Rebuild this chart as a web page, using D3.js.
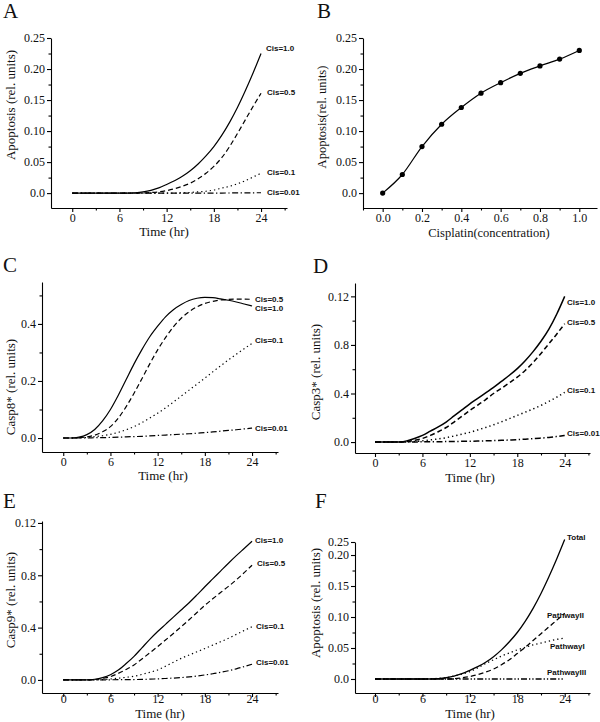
<!DOCTYPE html>
<html><head><meta charset="utf-8">
<script src="https://cdn.jsdelivr.net/npm/d3@7"></script>
<style>
body{margin:0;background:#fff}
svg{display:block}
text{font-family:"Liberation Serif","Times New Roman",serif;fill:#111}
.lbl{font-family:"Liberation Sans",Arial,sans-serif;font-weight:bold;font-size:8px}
</style>
</head><body>
<svg id="c" width="600" height="722"></svg>
<script>
// ---------- DATA ----------
const hours = [0,1,2,3,4,5,6,7,8,9,10,11,12,13,14,15,16,17,18,19,20,21,22,23,24];
const timeTicks = [0,6,12,18,24];
const timeMinor = [3,9,15,21,27];

// Panel A: Apoptosis vs time
const aCis10 = [0,0,0,0,0,0,0,0,0.0006,0.002,0.0045,0.0085,0.014,0.020,0.027,0.036,0.047,0.060,0.075,0.093,0.114,0.138,0.165,0.194,0.225];
const aCis05 = [0,0,0,0,0,0,0,0,0,0.0003,0.001,0.002,0.004,0.007,0.011,0.016,0.023,0.032,0.043,0.057,0.075,0.096,0.118,0.14,0.161];
const aCis01 = [0,0,0,0,0,0,0,0,0,0,0,0,0,0,0.0005,0.001,0.002,0.003,0.005,0.008,0.011,0.015,0.02,0.026,0.032];
const aCis001 = [0,0,0,0,0,0,0,0,0,0,0,0,0,0,0,0,0,0,0,0.0001,0.0002,0.0003,0.0004,0.0005,0.0006];
const aYTicks = [0,0.05,0.10,0.15,0.20,0.25];
const aYLabels = ["0.0","0.05","0.10","0.15","0.20","0.25"];

// Panel B: Apoptosis vs cisplatin concentration
const bConc = [0,0.1,0.2,0.3,0.4,0.5,0.6,0.7,0.8,0.9,1.0];
const bApop = [0,0.030,0.075,0.111,0.138,0.161,0.178,0.193,0.205,0.216,0.230];
const bXTicks = [0,0.2,0.4,0.6,0.8,1.0];
const bXLabels = ["0.0","0.2","0.4","0.6","0.8","1.0"];
const bXMinor = [-0.1,0.1,0.3,0.5,0.7,0.9];

// Panel C: Casp8*
const cCis10 = [0,0,0.003,0.012,0.03,0.06,0.10,0.15,0.205,0.26,0.31,0.355,0.392,0.425,0.45,0.468,0.482,0.49,0.493,0.492,0.488,0.483,0.477,0.47,0.463];
const cCis05 = [0,0,0.001,0.004,0.01,0.022,0.04,0.07,0.11,0.157,0.208,0.26,0.309,0.352,0.39,0.42,0.443,0.46,0.472,0.479,0.484,0.486,0.487,0.487,0.486];
const cCis01 = [0,0,0.001,0.002,0.005,0.008,0.013,0.02,0.029,0.04,0.054,0.07,0.087,0.106,0.126,0.147,0.168,0.189,0.21,0.232,0.253,0.274,0.294,0.313,0.332];
const cCis001 = [0,0,0,0,0.001,0.0015,0.002,0.003,0.004,0.005,0.006,0.0075,0.009,0.0105,0.012,0.0135,0.015,0.017,0.019,0.0215,0.024,0.0265,0.029,0.032,0.035];
const cYTicks = [0,0.2,0.4];
const cYLabels = ["0.0","0.2","0.4"];

// Panel D: Casp3*
const dCis10 = [0,0,0,0,0.01,0.03,0.055,0.09,0.125,0.165,0.215,0.265,0.315,0.36,0.405,0.45,0.5,0.55,0.605,0.67,0.745,0.83,0.93,1.055,1.2];
const dCis05 = [0,0,0,0,0.005,0.015,0.03,0.055,0.085,0.12,0.165,0.212,0.26,0.305,0.35,0.40,0.443,0.488,0.535,0.59,0.655,0.73,0.81,0.89,0.975];
const dCis01 = [0,0,0,0,0.002,0.005,0.01,0.018,0.026,0.036,0.05,0.065,0.08,0.1,0.12,0.142,0.167,0.193,0.22,0.246,0.273,0.302,0.335,0.37,0.41];
const dCis001 = [0,0,0,0,0,0.001,0.002,0.003,0.003,0.004,0.005,0.006,0.007,0.008,0.01,0.012,0.014,0.017,0.02,0.024,0.028,0.033,0.038,0.046,0.055];
const dYTicks = [0,0.4,0.8,1.2];
const dYLabels = ["0.0","0.4","0.8","0.12"];

// Panel E: Casp9*
const eCis10 = [0,0,0,0,0.005,0.018,0.04,0.075,0.125,0.18,0.245,0.31,0.37,0.425,0.48,0.535,0.59,0.65,0.712,0.772,0.832,0.892,0.95,1.005,1.06];
const eCis05 = [0,0,0,0,0.003,0.012,0.025,0.05,0.08,0.115,0.16,0.207,0.255,0.305,0.355,0.407,0.46,0.515,0.57,0.62,0.668,0.715,0.765,0.82,0.877];
const eCis01 = [0,0,0,0,0,0.003,0.007,0.013,0.02,0.028,0.042,0.058,0.076,0.105,0.135,0.165,0.19,0.215,0.24,0.266,0.292,0.318,0.348,0.378,0.407];
const eCis001 = [0,0,0,0,0,0,0.001,0.0015,0.002,0.003,0.004,0.006,0.008,0.011,0.014,0.018,0.023,0.03,0.038,0.047,0.058,0.07,0.085,0.102,0.12];
const eYTicks = [0,0.4,0.8,1.2];
const eYLabels = ["0.0","0.4","0.8","0.12"];

// Panel F: Apoptosis by pathway
const fTotal = [0,0,0,0,0,0,0,0,0.0006,0.002,0.0045,0.0085,0.014,0.020,0.027,0.036,0.047,0.060,0.075,0.093,0.114,0.138,0.165,0.194,0.225];
const fPathII = [0,0,0,0,0,0,0,0,0,0,0.0005,0.002,0.004,0.007,0.011,0.016,0.023,0.031,0.041,0.051,0.062,0.073,0.084,0.095,0.106];
const fPathI = [0,0,0,0,0,0,0,0.0003,0.001,0.002,0.005,0.008,0.012,0.018,0.025,0.031,0.037,0.042,0.047,0.051,0.055,0.058,0.061,0.064,0.066];
const fPathIII = [0,0,0,0,0,0,0,0,0,0,0,0,0,0,0,0,0,0,0,0,0,0,0,0,0];
const fYTicks = [0,0.05,0.10,0.15,0.20,0.221];
const fYLabels = ["0.0","0.05","0.10","0.15","0.20","0.25"];

// ---------- STYLES ----------
const dash = {solid:null, dashed:"5,3", dotted:"1.3,3", dashdot:"6,2.5,1.3,2.5", dashdotdot:"6,2,1.3,2,1.3,2"};
const svg = d3.select("#c");

function panel(cfg){
  const g = svg.append("g");
  const x = d3.scaleLinear().domain(cfg.xDom).range(cfg.xRange);
  const y = d3.scaleLinear().domain(cfg.yDom).range(cfg.yRange);
  const x0 = cfg.xRange[0], yb = cfg.yRange[0];

  // minor ticks
  g.append("g").attr("transform",`translate(0,${yb})`)
    .call(d3.axisBottom(x).tickValues(cfg.xMinor).tickSize(2.5).tickSizeOuter(0).tickFormat(""))
    .call(s=>s.select(".domain").remove());
  g.append("g").attr("transform",`translate(${x0},0)`)
    .call(d3.axisLeft(y).tickValues(cfg.yMinor).tickSize(2.5).tickSizeOuter(0).tickFormat(""))
    .call(s=>s.select(".domain").remove());
  // major
  g.append("g").attr("transform",`translate(0,${yb})`)
    .call(d3.axisBottom(x).tickValues(cfg.xTicks).tickSize(4).tickSizeOuter(0)
      .tickPadding(cfg.xPad===undefined?1:cfg.xPad)
      .tickFormat((d,i)=>cfg.xLabels[i]));
  g.append("g").attr("transform",`translate(${x0},0)`)
    .call(d3.axisLeft(y).tickValues(cfg.yTicks).tickSize(4).tickSizeOuter(0).tickPadding(2)
      .tickFormat((d,i)=>cfg.yLabels[i]));
  g.selectAll(".tick text").style("font-family","'Liberation Serif','Times New Roman',serif").style("font-size","12px").attr("fill","#111");
  g.selectAll(".domain, .tick line").attr("stroke","#000").attr("stroke-width",1.1);

  // series
  cfg.series.forEach(s=>{
    const pts = cfg.xs.map((t,i)=>[t,s.values[i]]);
    g.append("path").datum(pts)
      .attr("fill","none").attr("stroke","#000").attr("stroke-width",cfg.lw||1.2)
      .attr("stroke-dasharray",dash[s.style])
      .attr("d",d3.line().x(d=>x(d[0])).y(d=>y(d[1])).curve(d3.curveMonotoneX));
    if(cfg.markers){
      g.selectAll(null).data(pts).enter().append("circle")
        .attr("cx",d=>x(d[0])).attr("cy",d=>y(d[1])).attr("r",2.6).attr("fill","#000");
    }
    if(s.label){
      g.append("text").attr("class","lbl").attr("x",s.lx).attr("y",s.ly)
        .attr("dy","0.35em").text(s.label);
    }
  });

  // titles
  g.append("text").attr("x",cfg.xt[0]).attr("y",cfg.xt[1]).attr("text-anchor","middle")
    .attr("dy","0.35em").style("font-size",(cfg.xtSize||13)+"px").text(cfg.xTitle);
  g.append("text").attr("transform",`translate(${cfg.yt[0]},${cfg.yt[1]}) rotate(-90)`)
    .attr("text-anchor","middle").attr("dy","0.35em").style("font-size",(cfg.ytSize||13)+"px").text(cfg.yTitle);
  g.append("text").attr("x",cfg.letter[1]).attr("y",cfg.letter[2]).style("font-size","21px").text(cfg.letter[0]);
}

panel({letter:["A",3,18], xDom:[-2.7,27.3], xRange:[51,287], yDom:[-0.024,0.25], yRange:[208,38],
  xTicks:timeTicks, xLabels:timeTicks.map(String), xMinor:timeMinor,
  yTicks:aYTicks, yLabels:aYLabels, yMinor:[0.025,0.075,0.125,0.175,0.225],
  xs:hours, xTitle:"Time (hr)", xt:[164,231], yTitle:"Apoptosis (rel. units)", yt:[10,105],
  series:[
    {values:aCis10, style:"solid", label:"Cis=1.0", lx:266, ly:48},
    {values:aCis05, style:"dashed", label:"Cis=0.5", lx:267, ly:92},
    {values:aCis01, style:"dotted", label:"Cis=0.1", lx:267, ly:172},
    {values:aCis001, style:"dashdot", label:"Cis=0.01", lx:267, ly:192}
  ]});

panel({letter:["B",317,18], xDom:[-0.1,1.09], xRange:[363,597], yDom:[-0.024,0.25], yRange:[208,38],
  xTicks:bXTicks, xLabels:bXLabels, xMinor:bXMinor,
  yTicks:aYTicks, yLabels:aYLabels, yMinor:[0.025,0.075,0.125,0.175,0.225],
  xs:bConc, markers:true, xTitle:"Cisplatin(concentration)", xt:[489,233], xtSize:12.5,
  yTitle:"Apoptosis(rel.  units)", yt:[322,117], ytSize:12.5,
  series:[{values:bApop, style:"solid"}]});

panel({letter:["C",3,272], xDom:[-2.7,27.3], xRange:[42,278], yDom:[-0.049,0.547], yRange:[452,282],
  xTicks:timeTicks, xLabels:timeTicks.map(String), xMinor:timeMinor,
  yTicks:cYTicks, yLabels:cYLabels, yMinor:[0.1,0.3,0.5],
  xs:hours, xTitle:"Time (hr)", xt:[163,475], yTitle:"Casp8* (rel. units)", yt:[10,387],
  series:[
    {values:cCis10, style:"solid", label:"Cis=1.0", lx:255, ly:308},
    {values:cCis05, style:"dashed", label:"Cis=0.5", lx:255, ly:299},
    {values:cCis01, style:"dotted", label:"Cis=0.1", lx:255, ly:340},
    {values:cCis001, style:"dashdot", label:"Cis=0.01", lx:255, ly:428}
  ]});

panel({letter:["D",313,273], xDom:[-2.53,27.2], xRange:[355,590], yDom:[-0.09,1.31], yRange:[453,283], lw:1.5,
  xTicks:timeTicks, xLabels:timeTicks.map(String), xMinor:timeMinor,
  yTicks:dYTicks, yLabels:dYLabels, yMinor:[0.2,0.6,1.0],
  xs:hours, xTitle:"Time (hr)", xt:[470,477], yTitle:"Casp3* (rel. units)", yt:[315,372],
  series:[
    {values:dCis10, style:"solid", label:"Cis=1.0", lx:567, ly:302},
    {values:dCis05, style:"dashed", label:"Cis=0.5", lx:567, ly:322},
    {values:dCis01, style:"dotted", label:"Cis=0.1", lx:567, ly:390},
    {values:dCis001, style:"dashdot", label:"Cis=0.01", lx:567, ly:433}
  ]});

panel({letter:["E",3,508], xDom:[-2.7,27.3], xRange:[42,278], yDom:[-0.1,1.215], yRange:[693,521], xPad:-3,
  xTicks:timeTicks, xLabels:timeTicks.map(String), xMinor:timeMinor,
  yTicks:eYTicks, yLabels:eYLabels, yMinor:[0.2,0.6,1.0],
  xs:hours, xTitle:"Time (hr)", xt:[160,713], yTitle:"Casp9* (rel. units)", yt:[10,600],
  series:[
    {values:eCis10, style:"solid", label:"Cis=1.0", lx:255, ly:540},
    {values:eCis05, style:"dashed", label:"Cis=0.5", lx:257, ly:563},
    {values:eCis01, style:"dotted", label:"Cis=0.1", lx:256, ly:626},
    {values:eCis001, style:"dashdot", label:"Cis=0.01", lx:256, ly:662}
  ]});

panel({letter:["F",315,508], xDom:[-2.53,27.2], xRange:[355,590], yDom:[-0.0226,0.221], yRange:[693,542], lw:1.3, xPad:-3,
  xTicks:timeTicks, xLabels:timeTicks.map(String), xMinor:timeMinor,
  yTicks:fYTicks, yLabels:fYLabels, yMinor:[0.025,0.075,0.125,0.175],
  xs:hours, xTitle:"Time (hr)", xt:[470,713], yTitle:"Apoptosis (rel. units)", yt:[315,603],
  series:[
    {values:fTotal, style:"solid", label:"Total", lx:567, ly:537},
    {values:fPathII, style:"dashed", label:"PathwayII", lx:547, ly:615},
    {values:fPathI, style:"dotted", label:"PathwayI", lx:550, ly:646},
    {values:fPathIII, style:"dashdotdot", label:"PathwayIII", lx:547, ly:672}
  ]});
</script>
</body></html>
